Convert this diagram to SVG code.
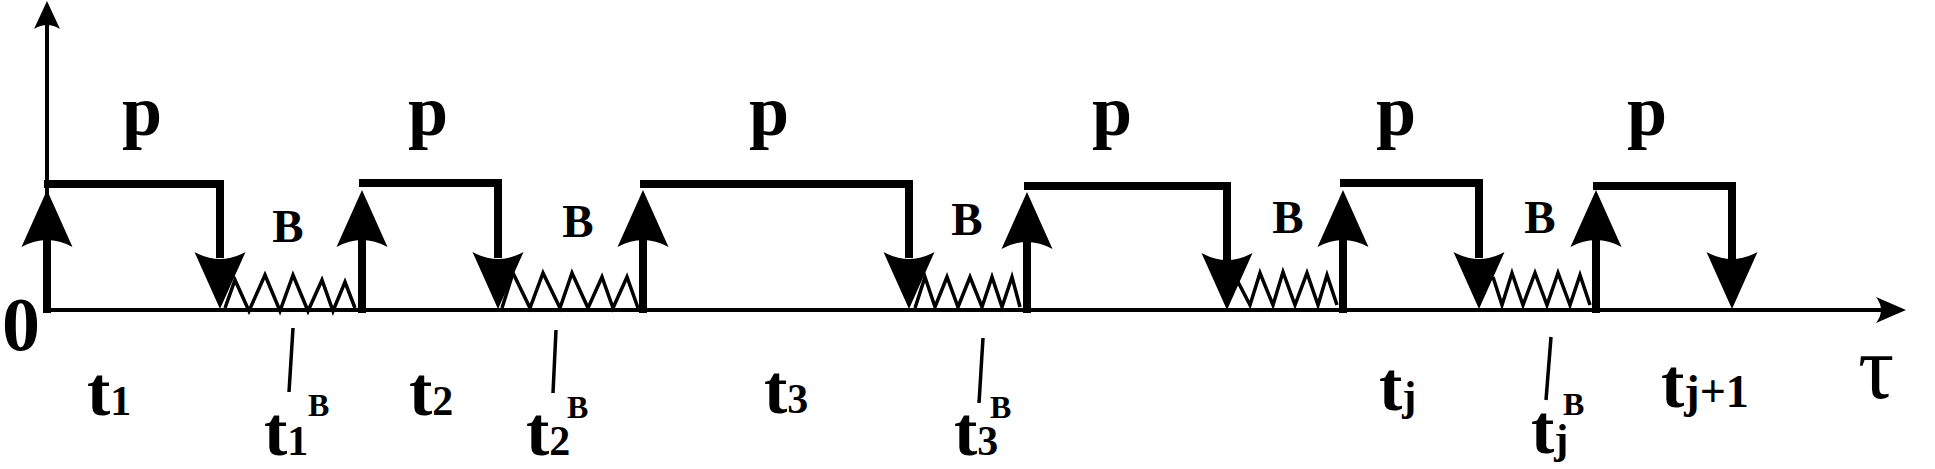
<svg xmlns="http://www.w3.org/2000/svg" xmlns:xlink="http://www.w3.org/1999/xlink" width="1935" height="469" viewBox="0 0 1935 469">
<style>
.ax{stroke:#000;stroke-width:4;fill:none}
.pl{stroke:#000;stroke-width:8;fill:none;stroke-linejoin:miter;stroke-linecap:butt}
.zz{stroke:#000;stroke-width:3.5;fill:none;stroke-linejoin:miter}
.tk{stroke:#000;stroke-width:3.5}
text{font-family:"Liberation Serif","Times New Roman",serif;font-weight:bold;fill:#000}
.p{font-size:72px;text-anchor:middle}
.b{font-size:47px;text-anchor:middle}
.t{font-size:70px}
.i{font-size:42px}
.s{font-size:32px}
.tau{font-size:90px;font-weight:normal}
</style>
<defs>
<path id="ah" d="M0,0 L25.5,57 Q0,43 -25.5,57 Z" fill="#000"/>
</defs>
<rect width="1935" height="469" fill="#fff"/>
<g id="axes">
<line class="ax" x1="47" y1="311" x2="47" y2="24"/>
<path d="M47,1 L60,29 Q47,21 34,29 Z" fill="#000"/>
<line class="ax" x1="45" y1="310" x2="1885" y2="310"/>
<path d="M1906,310 L1876,297 Q1886,310 1876,323 Z" fill="#000"/>
</g>
<g id="connectors">
<g id="pulse1">
<line class="pl" x1="47" y1="313" x2="47" y2="238"/>
<use xlink:href="#ah" transform="translate(47,190)"/>
<polyline class="pl" points="44,184 220,184 220,258"/>
<use xlink:href="#ah" transform="translate(220,309) rotate(180)"/>
</g>
<g id="pulse2">
<line class="pl" x1="362" y1="313" x2="362" y2="238"/>
<use xlink:href="#ah" transform="translate(362,190)"/>
<polyline class="pl" points="359,183 498,183 498,258"/>
<use xlink:href="#ah" transform="translate(498,309) rotate(180)"/>
</g>
<g id="pulse3">
<line class="pl" x1="643" y1="313" x2="643" y2="238"/>
<use xlink:href="#ah" transform="translate(643,190)"/>
<polyline class="pl" points="640,184 909,184 909,258"/>
<use xlink:href="#ah" transform="translate(909,309) rotate(180)"/>
</g>
<g id="pulse4">
<line class="pl" x1="1027" y1="313" x2="1027" y2="240"/>
<use xlink:href="#ah" transform="translate(1027,192)"/>
<polyline class="pl" points="1024,186 1227,186 1227,260"/>
<use xlink:href="#ah" transform="translate(1227,310) rotate(180)"/>
</g>
<g id="pulse5">
<line class="pl" x1="1343" y1="313" x2="1343" y2="238"/>
<use xlink:href="#ah" transform="translate(1343,190)"/>
<polyline class="pl" points="1340,183 1479,183 1479,258"/>
<use xlink:href="#ah" transform="translate(1479,309) rotate(180)"/>
</g>
<g id="pulse6">
<line class="pl" x1="1596" y1="313" x2="1596" y2="238"/>
<use xlink:href="#ah" transform="translate(1596,190)"/>
<polyline class="pl" points="1593,186 1732,186 1732,260"/>
<use xlink:href="#ah" transform="translate(1732,309) rotate(180)"/>
</g>
</g>
<g id="zigzags">
<polyline class="zz" points="225,308 235,280 249,311 265,275 280,311 293,275 308,311 322,280 333,311 345,282 355,308"/>
<polyline class="zz" points="502,308 513,273 530,308 543,273 560,308 572,273 588,308 602,277 613,308 627,277 638,308"/>
<polyline class="zz" points="915,308 925,277 935,307 947,277 958,307 970,277 982,307 992,277 1002,307 1012,277 1020,307"/>
<polyline class="zz" points="1237,280 1250,305 1260,273 1273,305 1283,272 1295,305 1307,273 1318,305 1327,275 1337,305"/>
<polyline class="zz" points="1493,277 1502,305 1512,273 1523,305 1535,273 1547,305 1558,273 1570,305 1580,275 1590,305"/>
</g>
<g id="ticks">
<line class="tk" x1="293" y1="328" x2="289" y2="392"/>
<line class="tk" x1="556" y1="330" x2="553" y2="393"/>
<line class="tk" x1="983" y1="338" x2="979" y2="403"/>
<line class="tk" x1="1551" y1="337" x2="1546" y2="400"/>
</g>
<g id="labels">
<text x="2" y="350" style="font-size:76px">0</text>
<text class="p" x="142" y="135">p</text>
<text class="p" x="428" y="135">p</text>
<text class="p" x="769" y="135">p</text>
<text class="p" x="1112" y="135">p</text>
<text class="p" x="1396" y="135">p</text>
<text class="p" x="1647" y="135">p</text>
<text class="b" x="288" y="242">B</text>
<text class="b" x="578" y="237">B</text>
<text class="b" x="967" y="235">B</text>
<text class="b" x="1288" y="233">B</text>
<text class="b" x="1540" y="233">B</text>
<text class="t" x="87" y="415">t<tspan class="i">1</tspan></text>
<text class="t" x="409" y="415">t<tspan class="i">2</tspan></text>
<text class="t" x="764" y="413">t<tspan class="i">3</tspan></text>
<text class="t" x="1379" y="410">t<tspan class="i">j</tspan></text>
<text class="t" x="1661" y="407">t<tspan style="font-size:46px">j+1</tspan></text>
<text class="t" x="264" y="455">t<tspan class="i">1</tspan></text>
<text class="s" x="308" y="416">B</text>
<text class="t" x="526" y="455">t<tspan class="i">2</tspan></text>
<text class="s" x="567" y="418">B</text>
<text class="t" x="954" y="455">t<tspan class="i">3</tspan></text>
<text class="s" x="990" y="418">B</text>
<text class="t" x="1531" y="453">t<tspan class="i">j</tspan></text>
<text class="s" x="1563" y="415">B</text>
<text class="tau" x="1858" y="398">τ</text>
</g>
</svg>
